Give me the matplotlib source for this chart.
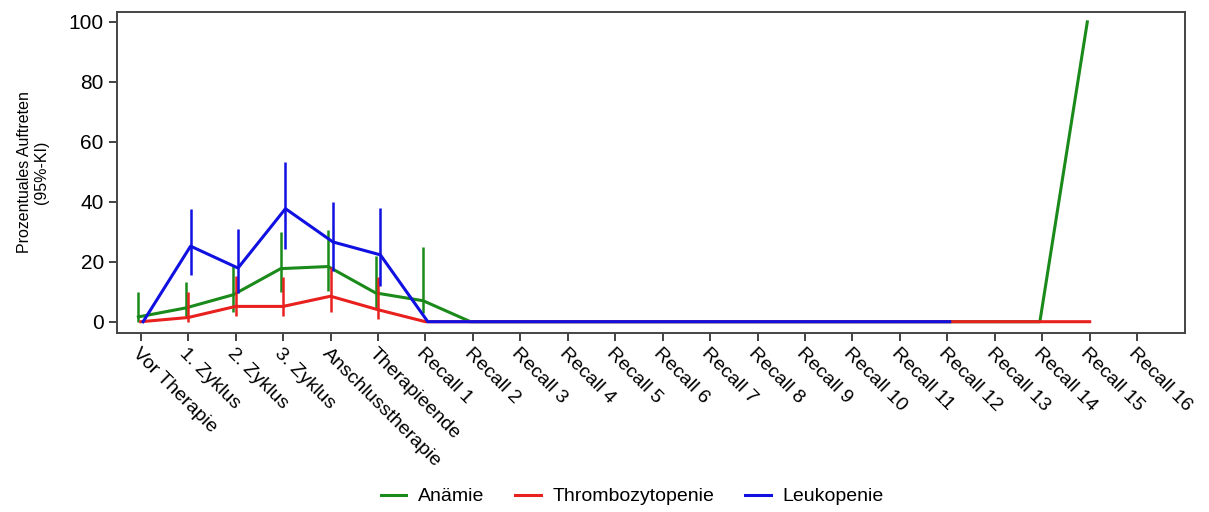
import numpy as np
import matplotlib.pyplot as plt

plt.rcParams['font.family'] = ['Liberation Sans', 'DejaVu Sans']

categories = ['Vor Therapie', '1. Zyklus', '2. Zyklus', '3. Zyklus', 'Anschlusstherapie',
              'Therapieende'] + [f'Recall {i}' for i in range(1, 17)]

# Anämie (green), values up to Recall 15
anaemie = [1.6, 4.6, 9.0, 17.7, 18.4, 9.6, 7.0] + [0] * 13 + [100]
anaemie_lo = [0.0, 1.2, 3.4, 9.8, 10.4, 4.6, 2.9]
anaemie_hi = [9.8, 13.2, 19.0, 29.9, 30.7, 21.8, 24.9]

# Thrombozytopenie (red), up to Recall 15
thrombo = [0, 1.4, 5.1, 5.1, 8.5, 4.0] + [0] * 15
thrombo_lo = [0, 0.0, 1.8, 1.8, 3.4, 1.0]
thrombo_hi = [0, 9.9, 15.3, 15.0, 18.4, 14.8]

# Leukopenie (blue), up to Recall 12
leuko = [0, 25.2, 17.9, 37.7, 26.6, 22.3] + [0] * 12
leuko_lo = [0, 15.7, 9.6, 24.3, 16.8, 11.8]
leuko_hi = [0, 37.7, 31.0, 53.2, 39.8, 37.9]

series = [
    ('Anämie', anaemie, anaemie_lo, anaemie_hi, '#1a8a1a', -0.05),
    ('Thrombozytopenie', thrombo, thrombo_lo, thrombo_hi, '#e8201e', 0.0),
    ('Leukopenie', leuko, leuko_lo, leuko_hi, '#1010e0', 0.05),
]

fig = plt.figure(figsize=(12.09, 5.12), dpi=100)
ax = fig.add_axes([0.0968, 0.350, 0.883, 0.6266])

for z, (name, vals, lo, hi, col, off) in enumerate(series):
    x = np.arange(len(vals)) + off
    ax.plot(x, vals, color=col, lw=2.2, label=name, zorder=2 + z)
    xe = np.arange(len(lo)) + off
    ax.vlines(xe, lo, hi, color=col, lw=1.8, zorder=2 + z)

ax.set_xlim(-0.5, 22.0)
ax.set_ylim(-3.7, 103.3)
ax.set_yticks([0, 20, 40, 60, 80, 100])
ax.set_xticks(np.arange(len(categories)))
ax.set_xticklabels(categories, rotation=-45, ha='left', va='top',
                   rotation_mode='anchor', fontsize=14)
ax.tick_params(axis='y', labelsize=15, length=6, width=1.2, colors='#222222')
ax.tick_params(axis='x', length=6, width=1.2, colors='#222222', pad=3)
for lab in ax.get_xticklabels() + ax.get_yticklabels():
    lab.set_color('black')
for s in ax.spines.values():
    s.set_color('#444444')
    s.set_linewidth(1.4)

ax.set_ylabel('Prozentuales Auftreten\n(95%-KI)', fontsize=11.5, labelpad=14)

fig.legend(loc='center', bbox_to_anchor=(0.523, 0.03), ncol=3, frameon=False,
           fontsize=14, handlelength=1.3, handletextpad=0.6, columnspacing=1.6)

fig.savefig('out.png', dpi=100)
